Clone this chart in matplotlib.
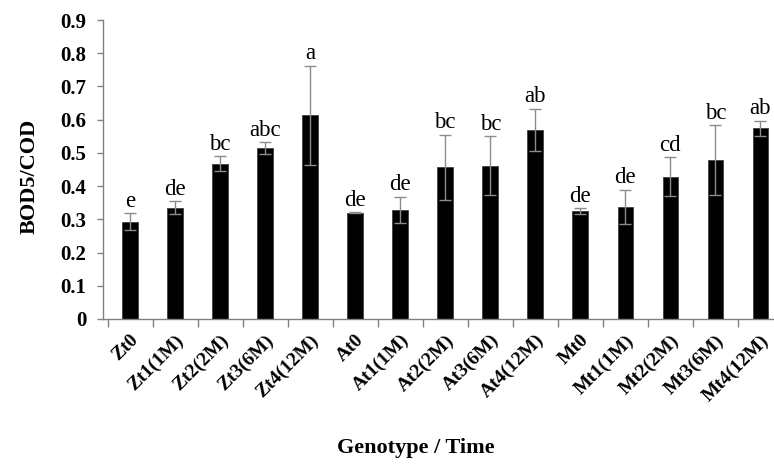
import numpy as np
import matplotlib
matplotlib.use("Agg")
import matplotlib.pyplot as plt

# bar labels, means, errors and significance letters
samples = ["Zt0", "Zt1(1M)", "Zt2(2M)", "Zt3(6M)", "Zt4(12M)",
           "At0", "At1(1M)", "At2(2M)", "At3(6M)", "At4(12M)",
           "Mt0", "Mt1(1M)", "Mt2(2M)", "Mt3(6M)", "Mt4(12M)"]
ratio = [0.293, 0.335, 0.467, 0.514, 0.613,
         0.320, 0.328, 0.457, 0.462, 0.570,
         0.325, 0.338, 0.428, 0.478, 0.574]
err = [0.026, 0.020, 0.023, 0.018, 0.149,
       0.002, 0.040, 0.098, 0.088, 0.063,
       0.008, 0.051, 0.059, 0.105, 0.023]
letters = ["e", "de", "bc", "abc", "a",
           "de", "de", "bc", "bc", "ab",
           "de", "de", "cd", "bc", "ab"]

plt.rcParams["font.family"] = ["Liberation Serif", "DejaVu Serif"]

fig = plt.figure(figsize=(7.74, 4.71), dpi=100)
# axes runs a little past the right edge, as in the original
ax = fig.add_axes([103 / 774, 152 / 471, 680 / 774, 299 / 471])

x = np.arange(len(samples)) + 0.5
ax.bar(x, ratio, width=0.35, color="black", edgecolor="#404040", linewidth=0.6, zorder=2)
ax.errorbar(x, ratio, yerr=err, fmt="none", ecolor="#8c8c8c", elinewidth=1,
            capsize=4, capthick=1, zorder=3)

for xi, v, e, l in zip(x, ratio, err, letters):
    ax.annotate(l, (xi, v + e), xytext=(0, 1), textcoords="offset points",
                ha="center", va="bottom", fontsize=16.5)

ax.set_xlim(-0.1, 15)
ax.set_ylim(0, 0.9)
ax.set_yticks(np.arange(0, 0.91, 0.1))
ax.set_yticklabels(["0"] + ["%.1f" % v for v in np.arange(0.1, 0.91, 0.1)],
                   fontsize=15, fontweight="bold")
ax.set_xticks(np.arange(0, 16))
ax.set_xticklabels([])
ax.set_xticks(x, minor=True)
ax.set_xticklabels(samples, minor=True, rotation=45, ha="right",
                   rotation_mode="anchor", fontsize=14, fontweight="bold")
ax.tick_params(axis="x", which="minor", length=0, pad=9)
ax.tick_params(axis="x", which="major", length=6, color="#808080", width=1)
ax.tick_params(axis="y", length=4, color="#808080", width=1, pad=8)

for s in ["top", "right"]:
    ax.spines[s].set_visible(False)
for s in ["left", "bottom"]:
    ax.spines[s].set_color("#808080")
    ax.spines[s].set_linewidth(1)

fig.text(30 / 774, 1 - 176 / 471, "BOD5/COD", rotation=90, ha="center", va="center",
         fontsize=16, fontweight="bold")
fig.text(416 / 774, 1 - 448 / 471, "Genotype / Time", ha="center", va="center",
         fontsize=16, fontweight="bold")

fig.savefig("out.png", dpi=100)
